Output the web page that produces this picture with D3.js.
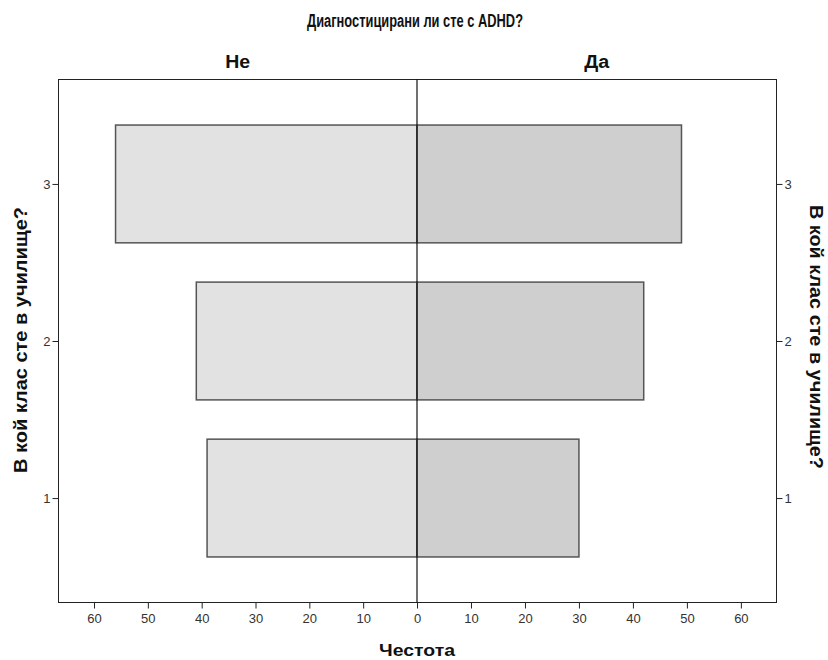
<!DOCTYPE html>
<html><head><meta charset="utf-8">
<script src="https://cdn.jsdelivr.net/npm/d3@7"></script>
<style>body{margin:0;background:#fff}</style>
</head><body>
<svg id="c" width="828" height="660"></svg>
<script>
const categories = [1, 2, 3];
const panels = ["Не", "Да"];
const valuesNe = [39, 41, 56];
const valuesDa = [30, 42, 49];
const xTicks = [0, 10, 20, 30, 40, 50, 60];
const title = "Диагностицирани ли сте с ADHD?";
const xTitle = "Честота";
const yTitle = "В кой клас сте в училище?";

const svg = d3.select("#c");
const L = 58.5, R = 776.5, T = 79.5, B = 602.5, C = 417;
const font = "'Liberation Sans', Arial, sans-serif";
const xMax = 66.6;
const xLeft = d3.scaleLinear().domain([0, xMax]).range([C, L]);
const xRight = d3.scaleLinear().domain([0, xMax]).range([C, R]);
const y = d3.scaleLinear().domain([0.335, 3.665]).range([B, T]);
const bh = y(0) - y(0.75);

// bars
const g = svg.append("g");
g.selectAll("rect.ne").data(categories).join("rect")
  .attr("x", (d,i) => xLeft(valuesNe[i])).attr("width", (d,i) => C - xLeft(valuesNe[i]))
  .attr("y", d => y(d) - bh/2).attr("height", bh)
  .attr("fill", "#e2e2e2").attr("stroke", "#555").attr("stroke-width", 1.5);
g.selectAll("rect.da").data(categories).join("rect")
  .attr("x", C).attr("width", (d,i) => xRight(valuesDa[i]) - C)
  .attr("y", d => y(d) - bh/2).attr("height", bh)
  .attr("fill", "#cfcfcf").attr("stroke", "#555").attr("stroke-width", 1.5);

// frame
svg.append("rect").attr("x", L).attr("y", T).attr("width", R-L).attr("height", B-T)
  .attr("fill", "none").attr("stroke", "#222").attr("stroke-width", 1);
svg.append("line").attr("x1", C).attr("x2", C).attr("y1", T).attr("y2", B)
  .attr("stroke", "#111").attr("stroke-width", 1.2);

// axes
function styleAxis(sel){
  sel.select(".domain").remove();
  sel.selectAll(".tick line").attr("stroke", "#222");
  sel.selectAll(".tick text").attr("fill", "#333").style("font-family", font).style("font-size", "13px");
}
svg.append("g").attr("transform", `translate(0,${B})`)
  .call(d3.axisBottom(xLeft).tickValues(xTicks).tickSize(6).tickPadding(5).tickFormat(d3.format("d")))
  .call(styleAxis);
svg.append("g").attr("transform", `translate(0,${B})`)
  .call(d3.axisBottom(xRight).tickValues(xTicks.slice(1)).tickSize(6).tickPadding(5).tickFormat(d3.format("d")))
  .call(styleAxis);
svg.append("g").attr("transform", `translate(${L},0)`)
  .call(d3.axisLeft(y).tickValues(categories).tickSize(6).tickPadding(2).tickFormat(d3.format("d")))
  .call(styleAxis);
svg.append("g").attr("transform", `translate(${R},0)`)
  .call(d3.axisRight(y).tickValues(categories).tickSize(6).tickPadding(2).tickFormat(d3.format("d")))
  .call(styleAxis);

// texts
const txt = (x, yy, s, size) => svg.append("text").attr("x", x).attr("y", yy).attr("text-anchor", "middle")
    .style("font-family", font).style("font-weight", "bold").style("font-size", size + "px")
    .attr("fill", "#111").text(s);
txt(415, 27, title, 18).attr("textLength", 216).attr("lengthAdjust", "spacingAndGlyphs");
txt((L + C)/2, 68, panels[0], 18).attr("textLength", 25).attr("lengthAdjust", "spacingAndGlyphs");
txt((C + R)/2, 68, panels[1], 18).attr("textLength", 25).attr("lengthAdjust", "spacingAndGlyphs");
txt(417, 656, xTitle, 16.5).attr("textLength", 76).attr("lengthAdjust", "spacingAndGlyphs");
txt(0, 0, yTitle, 17.5).attr("transform", "translate(27,340) rotate(-90)")
  .attr("textLength", 266).attr("lengthAdjust", "spacingAndGlyphs");
txt(0, 0, yTitle, 17.5).attr("transform", "translate(810,337) rotate(90)")
  .attr("textLength", 264).attr("lengthAdjust", "spacingAndGlyphs");
</script>
</body></html>
